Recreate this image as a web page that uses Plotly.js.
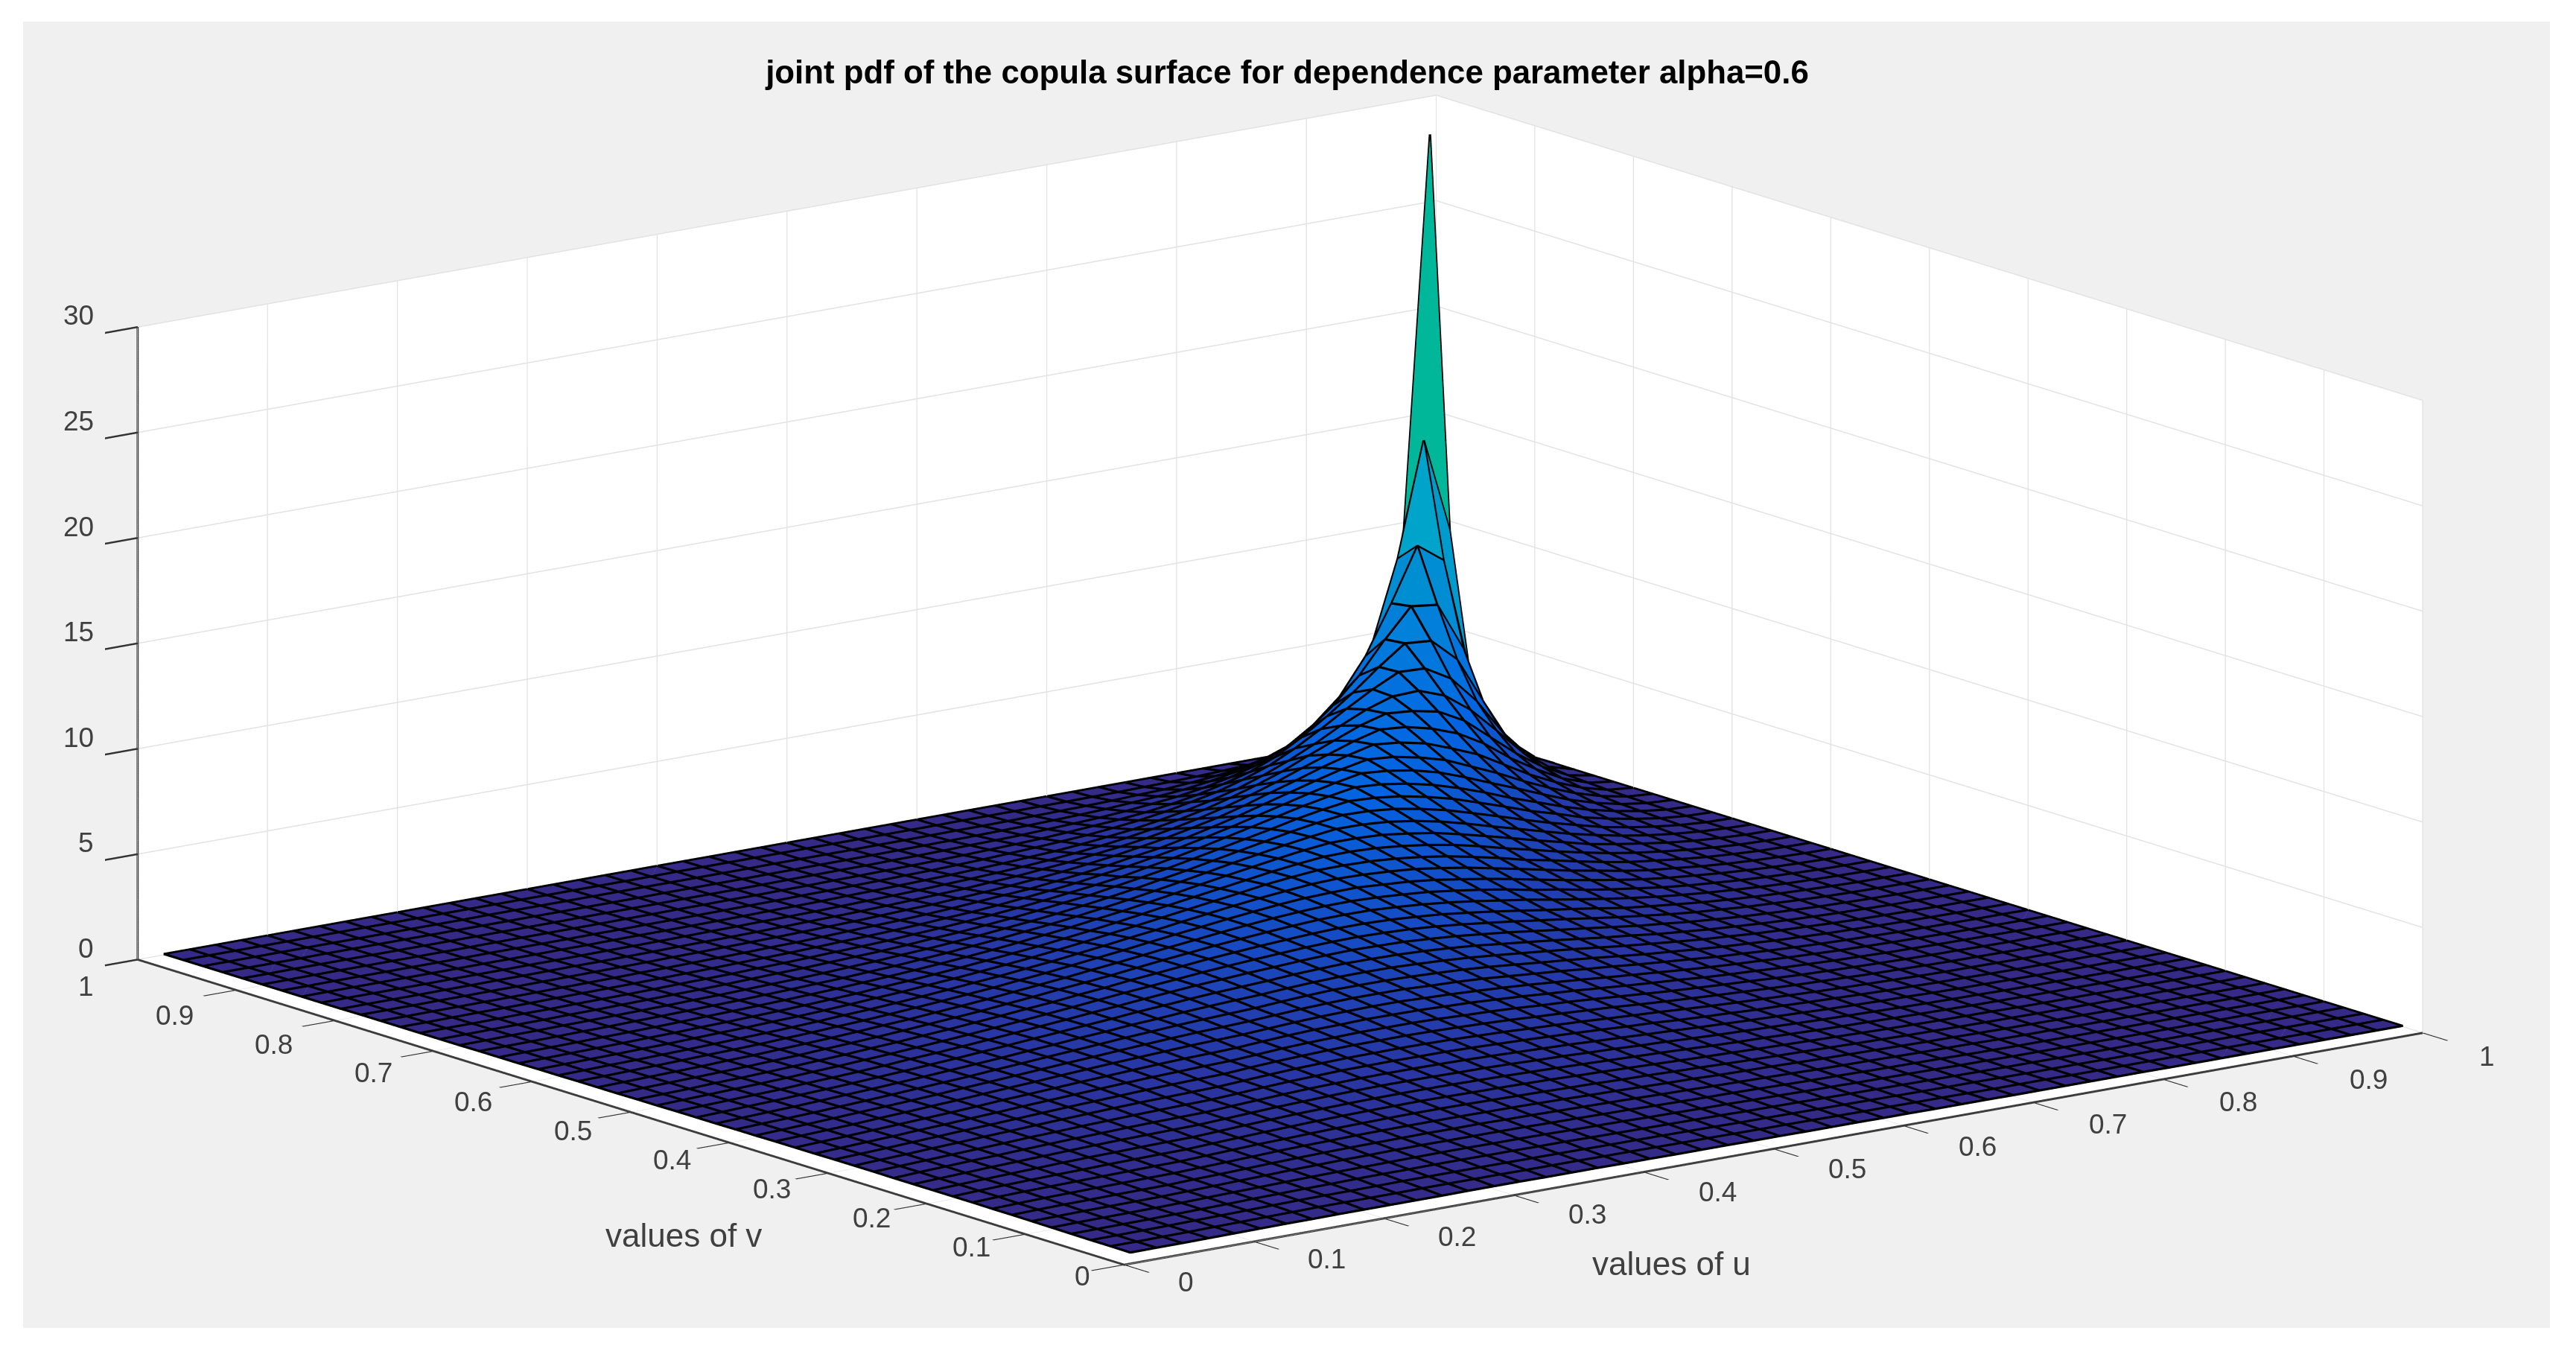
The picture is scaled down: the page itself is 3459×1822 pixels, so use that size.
<!DOCTYPE html>
<html><head><meta charset="utf-8">
<script src="https://cdn.plot.ly/plotly-3.0.1.min.js"></script>
<style>html,body{margin:0;padding:0;background:#fff}#p{width:3459px;height:1822px}</style>
</head><body><div id="p"></div>
<script>
const gridValues=[.02,.04,.06,.08,.1,.12,.14,.16,.18,.2,.22,.24,.26,.28,.3,.32,.34,.36,.38,.4,.42,.44,.46,.48,.5,.52,.54,.56,.58,.6,.62,.64,.66,.68,.7,.72,.74,.76,.78,.8,.82,.84,.86,.88,.9,.92,.94,.96,.98,1];
// pdf values; the surface is symmetric, so each row holds one grid line
// from the diagonal down to the lowest grid value (first row: u=1, undefined at the corner; last row: u=.02)
const pdfRows=[
[null,0,0,0,0,0,0,0,0,0,0,0,0,0,0,0,0,0,0,0,0,0,0,0,0,0,0,0,0,0,0,0,0,0,0,0,0,0,0,0,0,0,0,0,0,0,0,0,0,0],
[28.6,10.1,3.7,1.75,1,.58,.35,.23,.17,.12,.09,.07,.05,.04,.03,.03,.02,.02,.02,.01,.01,.01,.01,.01,.01,.01,.01,.01,.01,.01,0,0,0,0,0,0,0,0,0,0,0,0,0,0,0,0,0,0,0],
[14.6,9.2,5.3,3.1,1.9,1.25,.86,.6,.44,.33,.24,.2,.15,.12,.1,.08,.06,.05,.05,.04,.03,.03,.02,.02,.02,.02,.01,.01,.01,.01,.01,.01,.01,.01,.01,.01,.01,0,0,0,0,0,0,0,0,0,0,0],
[10.1,7.6,5.3,3.6,2.5,1.7,1.25,.92,.69,.52,.42,.34,.26,.21,.17,.14,.12,.1,.08,.07,.06,.05,.04,.04,.03,.03,.02,.02,.02,.02,.01,.01,.01,.01,.01,.01,.01,.01,.01,.01,.01,.01,.01,0,0,0,0],
[7.75,6.4,4.9,3.7,2.7,2,1.5,1.16,.89,.7,.57,.45,.36,.3,.25,.2,.17,.15,.12,.1,.09,.07,.07,.06,.05,.04,.03,.03,.03,.02,.02,.02,.02,.01,.01,.01,.01,.01,.01,.01,.01,.01,.01,.01,0,0],
[6.5,5.6,4.6,3.7,2.9,2.2,1.7,1.36,1.07,.85,.68,.56,.48,.39,.32,.27,.23,.19,.16,.14,.12,.1,.09,.07,.06,.05,.05,.04,.04,.03,.03,.02,.02,.02,.02,.02,.01,.01,.01,.01,.01,.01,.01,0,0],
[5.65,5.05,4.35,3.6,2.9,2.3,1.86,1.5,1.24,1,.81,.67,.55,.47,.4,.34,.28,.24,.2,.18,.15,.13,.11,.1,.08,.07,.06,.05,.04,.04,.03,.03,.02,.02,.02,.02,.01,.01,.01,.01,.01,.01,0,0],
[5,4.6,4.05,3.4,2.83,2.34,1.92,1.59,1.32,1.09,.89,.75,.62,.52,.45,.38,.33,.28,.24,.21,.18,.16,.13,.11,.1,.08,.07,.06,.05,.05,.04,.03,.03,.02,.02,.02,.01,.01,.01,.01,.01,.01,0],
[4.7,4.35,3.86,3.36,2.83,2.4,2.02,1.68,1.42,1.2,1,.84,.71,.6,.51,.44,.38,.33,.28,.24,.21,.18,.15,.13,.12,.1,.09,.07,.06,.05,.05,.04,.03,.03,.02,.02,.02,.01,.01,.01,.01,0],
[4.45,4.12,3.7,3.28,2.83,2.43,2.07,1.76,1.5,1.27,1.09,.94,.79,.68,.57,.5,.42,.37,.32,.27,.23,.2,.18,.15,.13,.11,.1,.09,.07,.06,.05,.05,.04,.03,.03,.02,.02,.01,.01,.01,0],
[4.25,3.95,3.6,3.2,2.83,2.44,2.1,1.83,1.57,1.36,1.16,1,.85,.73,.63,.54,.47,.4,.36,.31,.26,.23,.2,.17,.15,.13,.11,.1,.08,.07,.06,.05,.04,.03,.03,.02,.02,.01,.01,.01],
[4.05,3.8,3.48,3.14,2.8,2.45,2.15,1.86,1.6,1.42,1.22,1.05,.91,.77,.69,.6,.51,.44,.38,.34,.3,.25,.21,.19,.16,.14,.12,.1,.09,.07,.06,.05,.04,.03,.03,.02,.02,.01,.01],
[3.9,3.67,3.39,3.08,2.77,2.46,2.18,1.91,1.68,1.46,1.29,1.11,.97,.84,.72,.62,.55,.47,.41,.36,.32,.27,.23,.2,.18,.15,.13,.11,.09,.08,.07,.06,.04,.03,.03,.02,.01,.01],
[3.75,3.54,3.3,3.02,2.74,2.46,2.18,1.93,1.71,1.48,1.31,1.16,1.01,.88,.77,.67,.58,.51,.43,.38,.34,.29,.25,.22,.18,.16,.14,.11,.09,.08,.07,.05,.05,.03,.02,.02,.01],
[3.6,3.42,3.2,2.93,2.68,2.43,2.18,1.94,1.73,1.53,1.33,1.19,1.04,.9,.79,.68,.61,.52,.45,.4,.35,.3,.27,.23,.19,.16,.14,.12,.1,.08,.07,.05,.04,.03,.02,.01],
[3.45,3.29,3.09,2.85,2.62,2.38,2.14,1.93,1.71,1.52,1.35,1.19,1.05,.93,.81,.71,.62,.55,.47,.41,.35,.3,.27,.23,.19,.17,.14,.12,.1,.08,.07,.05,.04,.02,.01],
[3.3,3.15,2.97,2.76,2.56,2.33,2.11,1.9,1.7,1.52,1.35,1.2,1.07,.94,.83,.72,.63,.54,.48,.41,.36,.31,.27,.23,.2,.17,.14,.12,.09,.08,.06,.04,.03,.02],
[3.15,3.02,2.85,2.66,2.47,2.27,2.06,1.86,1.67,1.51,1.34,1.2,1.06,.93,.82,.72,.63,.55,.48,.41,.36,.31,.27,.23,.2,.16,.13,.11,.09,.07,.05,.04,.02],
[3,2.88,2.73,2.55,2.37,2.19,2.01,1.82,1.64,1.47,1.32,1.17,1.05,.93,.82,.72,.63,.56,.47,.41,.35,.3,.26,.22,.19,.15,.13,.1,.08,.06,.04,.02],
[2.87,2.76,2.63,2.45,2.28,2.11,1.94,1.77,1.61,1.44,1.29,1.15,1.03,.92,.81,.72,.62,.55,.47,.4,.34,.3,.25,.22,.18,.14,.12,.09,.07,.05,.03],
[2.72,2.61,2.49,2.35,2.19,2.03,1.86,1.71,1.55,1.4,1.25,1.13,1,.9,.79,.69,.6,.52,.46,.39,.33,.28,.24,.2,.16,.13,.1,.08,.05,.03],
[2.57,2.48,2.36,2.23,2.08,1.94,1.79,1.63,1.49,1.35,1.21,1.09,.96,.86,.76,.67,.58,.5,.44,.37,.32,.26,.22,.19,.15,.12,.09,.06,.04],
[2.42,2.34,2.23,2.11,1.97,1.84,1.69,1.55,1.42,1.28,1.16,1.04,.92,.82,.73,.63,.56,.48,.41,.35,.3,.24,.21,.16,.13,.1,.07,.04],
[2.27,2.19,2.09,1.99,1.86,1.74,1.6,1.46,1.34,1.23,1.1,.99,.87,.78,.69,.6,.52,.45,.39,.32,.27,.22,.18,.14,.11,.08,.04],
[2.12,2.05,1.96,1.87,1.75,1.63,1.52,1.38,1.27,1.14,1.04,.93,.83,.73,.65,.56,.49,.41,.35,.29,.24,.19,.16,.11,.08,.05],
[1.98,1.91,1.83,1.74,1.63,1.53,1.43,1.31,1.19,1.08,.97,.87,.77,.68,.6,.52,.45,.38,.32,.26,.21,.17,.13,.09,.05],
[1.84,1.78,1.7,1.63,1.53,1.43,1.32,1.22,1.11,1.01,.91,.81,.72,.63,.56,.47,.4,.34,.29,.22,.18,.14,.1,.06],
[1.7,1.64,1.58,1.5,1.41,1.33,1.22,1.13,1.03,.94,.84,.75,.66,.58,.5,.43,.36,.3,.25,.19,.15,.1,.06],
[1.56,1.51,1.45,1.38,1.29,1.22,1.12,1.04,.94,.86,.76,.68,.6,.52,.45,.38,.32,.26,.2,.16,.11,.06],
[1.43,1.38,1.33,1.27,1.19,1.12,1.03,.95,.87,.78,.7,.61,.54,.47,.4,.33,.27,.21,.16,.12,.07],
[1.31,1.26,1.22,1.16,1.09,1.02,.94,.87,.79,.71,.63,.56,.48,.41,.35,.29,.23,.17,.12,.07],
[1.19,1.15,1.11,1.05,.99,.93,.86,.79,.71,.64,.57,.49,.43,.36,.3,.23,.18,.13,.08],
[1.07,1.03,1,.95,.89,.83,.77,.7,.63,.57,.49,.42,.36,.3,.24,.18,.13,.08],
[.96,.93,.89,.85,.8,.74,.68,.62,.56,.49,.43,.36,.31,.24,.19,.13,.08],
[.85,.82,.79,.75,.7,.65,.6,.54,.48,.42,.37,.31,.25,.19,.14,.09],
[.75,.72,.69,.66,.62,.57,.52,.47,.41,.36,.3,.25,.19,.14,.09],
[.65,.63,.6,.57,.53,.49,.44,.4,.34,.29,.24,.19,.14,.09],
[.56,.54,.52,.49,.45,.42,.38,.33,.28,.24,.19,.14,.08],
[.48,.46,.44,.42,.39,.35,.31,.27,.23,.18,.13,.08],
[.4,.39,.37,.34,.32,.29,.25,.21,.17,.13,.08],
[.33,.32,.3,.28,.25,.23,.2,.17,.13,.08],
[.27,.26,.24,.22,.2,.18,.16,.13,.08],
[.22,.21,.19,.18,.16,.14,.11,.07],
[.17,.16,.15,.13,.12,.1,.07],
[.13,.12,.11,.1,.08,.06],
[.1,.09,.08,.07,.05],
[.07,.06,.05,.04],
[.05,.04,.03],
[.03,.03],
[.02]
];
const axisTicks=[0,.1,.2,.3,.4,.5,.6,.7,.8,.9,1];
const axisTickText=['0','0.1','0.2','0.3','0.4','0.5','0.6','0.7','0.8','0.9','1'];
const zTicks=[0,5,10,15,20,25,30];
const colorStops=[0,.03,.07,.125,.2,.28,.36,.45,.52,.7,.85,1];
const colorRGB=[[53,42,135],[40,55,165],[22,75,195],[3,100,225],[2,120,220],[0,145,210],[0,165,200],[0,178,175],[0,185,150],[120,190,90],[230,185,50],[250,250,15]];

const n=gridValues.length;
const Z=gridValues.map(()=>new Array(n).fill(0));
pdfRows.forEach((row,r)=>{const a=n-1-r;row.forEach((val,s)=>{const b=a-s;Z[a][b]=val;Z[b][a]=val;});});
const known=Z.flat().filter(v=>v!==null);
const zMax=Math.max(...known),zMin=Math.min(...known);
function colorFor(v){
  const f=(v-zMin)/(zMax-zMin);let k=0;
  while(k<colorStops.length-2&&f>colorStops[k+1])k++;
  const t=(f-colorStops[k])/(colorStops[k+1]-colorStops[k]);
  const c=colorRGB[k].map((q,m)=>Math.round(q+(colorRGB[k+1][m]-q)*t));
  return 'rgb('+c.join(',')+')';
}
const mx=[],my=[],mz=[],I=[],J=[],K=[],fc=[];
for(let a=0;a<n;a++)for(let b=0;b<n;b++){mx.push(gridValues[a]);my.push(gridValues[b]);mz.push(Z[a][b]===null?0:Z[a][b]);}
for(let a=0;a<n-1;a++)for(let b=0;b<n-1;b++){
  if(Z[a+1][b+1]===null)continue; // the undefined corner leaves its facet open
  const p=a*n+b,q=(a+1)*n+b,r=(a+1)*n+b+1,s=a*n+b+1,col=colorFor(Z[a][b]);
  I.push(p,p);J.push(q,r);K.push(r,s);fc.push(col,col);
}
// mesh lines sit a hair above the facets so that they are not lost in the depth test
const lift=.05;
const lx=[],ly=[],lz=[];
function addPoint(a,b){lx.push(gridValues[a]);ly.push(gridValues[b]);lz.push(Z[a][b]===null?null:Z[a][b]+lift);}
function breakLine(){lx.push(null);ly.push(null);lz.push(null);}
for(let a=0;a<n;a++){for(let b=0;b<n;b++)addPoint(a,b);breakLine();}
for(let b=0;b<n;b++){for(let a=0;a<n;a++)addPoint(a,b);breakLine();}

const F='"Liberation Sans",Arial,sans-serif',TC='#404040';
function axis(ticks,text,range){return {
  title:{text:''},
  range:range,autorange:false,tickmode:'array',tickvals:ticks,ticktext:text,showticklabels:false,
  ticks:'outside',ticklen:55,tickwidth:5,tickcolor:'#333333',
  showline:true,linecolor:'#3c3c3c',linewidth:6,showgrid:true,gridcolor:'#e2e2e2',gridwidth:3,
  showbackground:true,backgroundcolor:'#ffffff',zeroline:false,showspikes:false};}
const tickFont={family:F,size:37,color:TC};
const sceneLabels=[
  ...axisTicks.map((t,i)=>({x:t,y:0,z:0,text:axisTickText[i],showarrow:false,xanchor:'left',yanchor:'middle',xshift:70+4*t,yshift:-23-9*t,font:tickFont})),
  ...axisTicks.map((t,i)=>({x:0,y:t,z:0,text:axisTickText[i],showarrow:false,xanchor:'right',yanchor:'middle',xshift:-44-13*t,yshift:-15-21*t,font:tickFont})),
  ...zTicks.map(t=>({x:0,y:1,z:t,text:String(t),showarrow:false,xanchor:'right',yanchor:'middle',xshift:-57,yshift:15,font:tickFont}))
];
const D=3, A=2.409;
const layout={width:3459,height:1822,margin:{l:0,r:0,t:0,b:0},paper_bgcolor:'#ffffff',showlegend:false,
  title:{text:'joint pdf of the copula surface for dependence parameter alpha=0.6',x:.4997,xref:'paper',xanchor:'center',y:.9468,yref:'paper',yanchor:'middle',font:{family:F,size:43.8,color:'#000',weight:700}},
  shapes:[{type:'rect',xref:'paper',yref:'paper',x0:31/3459,x1:3424/3459,y0:1-1783/1822,y1:1-29/1822,fillcolor:'#f0f0f0',line:{width:0},layer:'below'}],
  annotations:[
    {text:'values of u',xref:'paper',yref:'paper',x:2244/3459,y:1-1696/1822,xanchor:'center',yanchor:'middle',showarrow:false,font:{family:F,size:44,color:TC}},
    {text:'values of v',xref:'paper',yref:'paper',x:918/3459,y:1-1658/1822,xanchor:'center',yanchor:'middle',showarrow:false,font:{family:F,size:44,color:TC}}],
  scene:{domain:{x:[0,.994],y:[0,.998]},bgcolor:'rgba(0,0,0,0)',aspectmode:'manual',aspectratio:{x:A,y:A,z:.399*A},
    camera:{projection:{type:'orthographic'},eye:{x:-.588*D,y:-.774*D,z:.235*D},center:{x:0,y:0,z:0},up:{x:0,y:0,z:1}},
    annotations:sceneLabels,
    xaxis:axis(axisTicks,axisTickText,[0,1]),
    yaxis:axis(axisTicks,axisTickText,[0,1]),
    zaxis:axis(zTicks,zTicks.map(String),[0,30])}};
const traces=[
 {type:'mesh3d',x:mx,y:my,z:mz,i:I,j:J,k:K,facecolor:fc,flatshading:true,showscale:false,hoverinfo:'skip',
  lighting:{ambient:1,diffuse:0,specular:0,roughness:1,fresnel:0},lightposition:{x:0,y:0,z:1e5}},
 {type:'scatter3d',mode:'lines',x:lx,y:ly,z:lz,connectgaps:false,line:{color:'#000000',width:6.5},hoverinfo:'skip'}
];
Plotly.newPlot('p',traces,layout,{displayModeBar:false});
</script></body></html>
